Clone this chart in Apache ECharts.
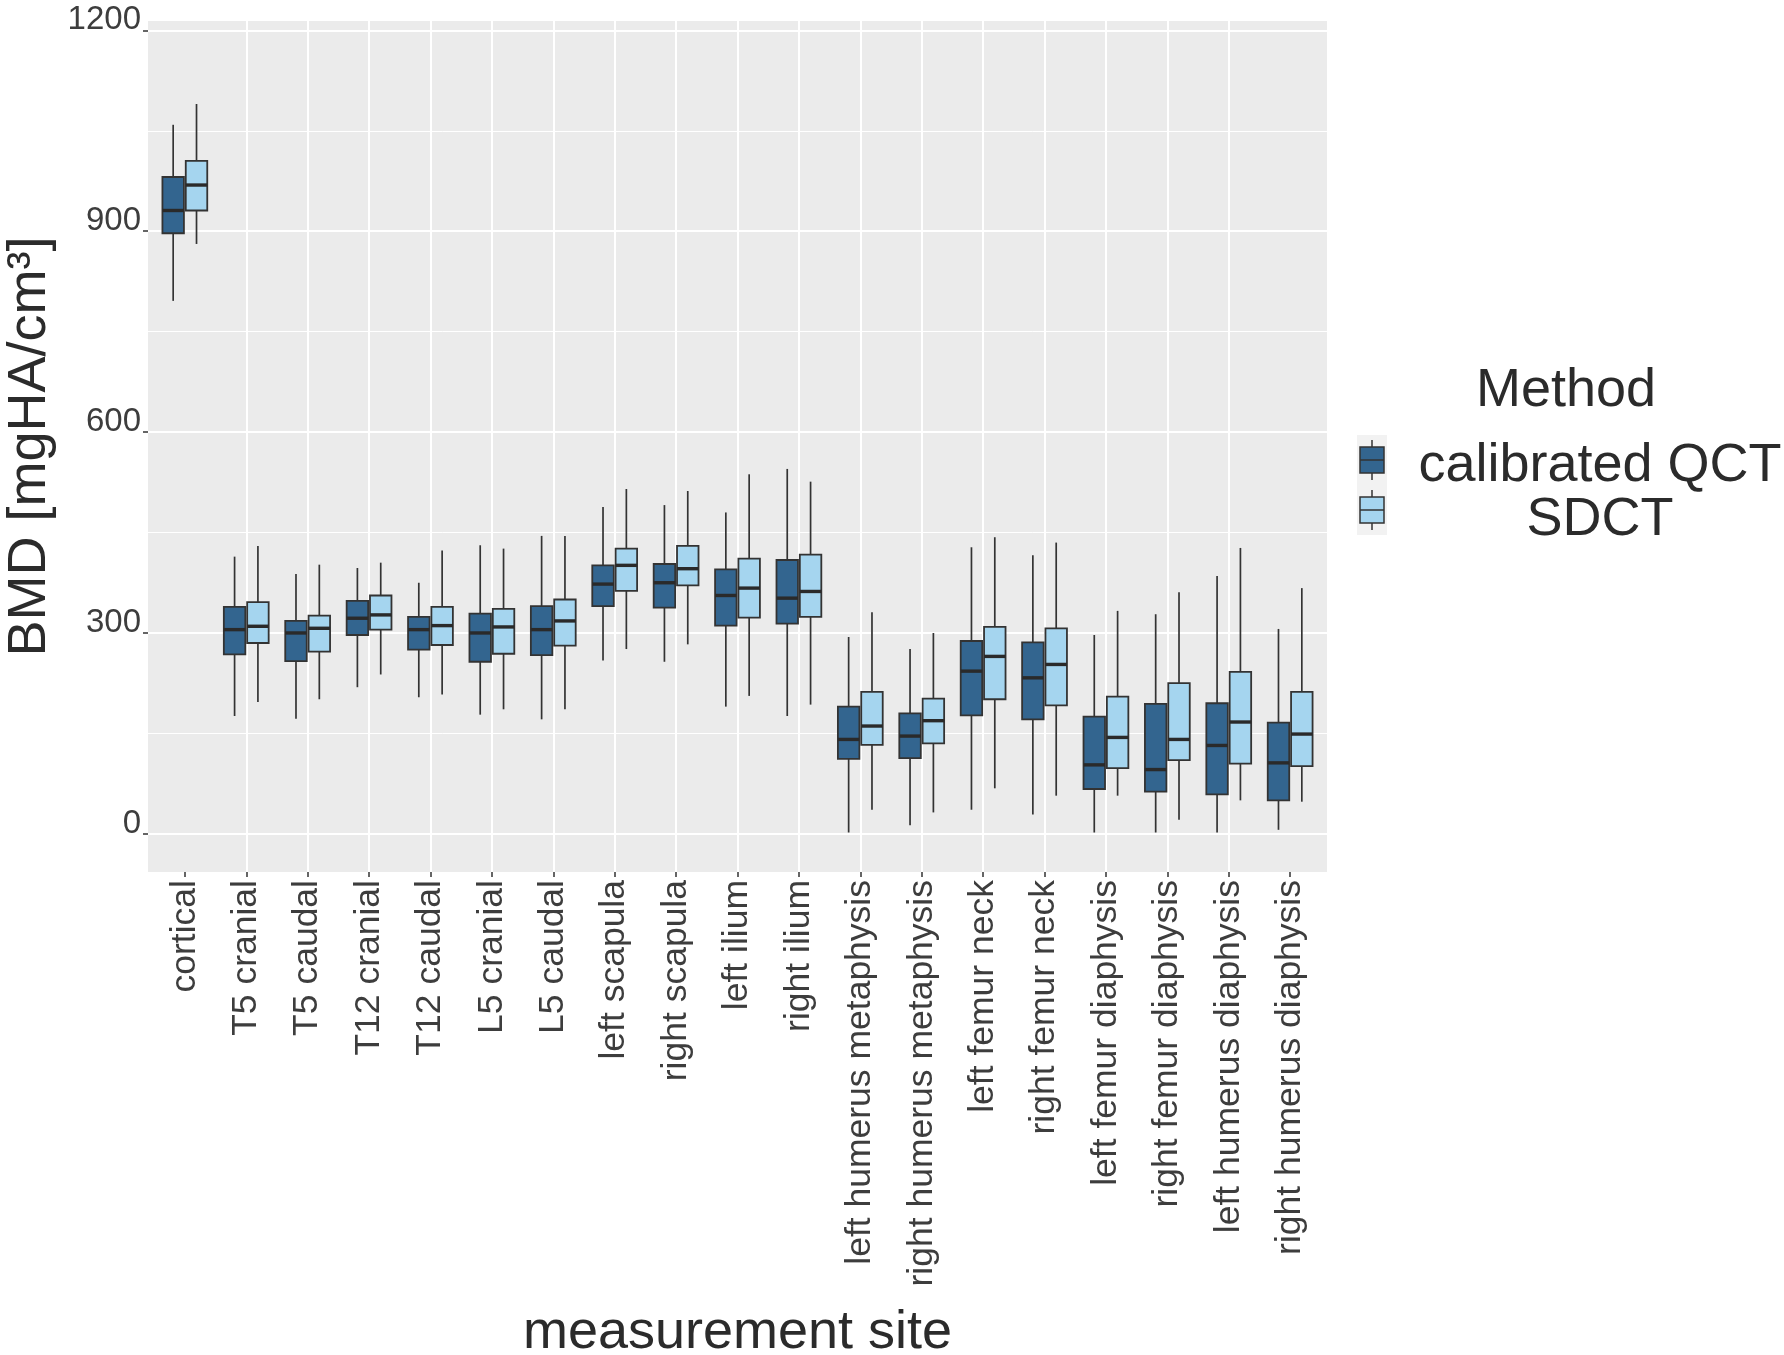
<!DOCTYPE html>
<html>
<head>
<meta charset="utf-8">
<script src="https://cdn.jsdelivr.net/npm/echarts@6/dist/echarts.min.js"></script>
<style>
html,body{margin:0;padding:0;background:#fff;}
#chart{width:1784px;height:1355px;}
</style>
</head>
<body>
<div id="chart"></div>
<script>
// ---- data (min, Q1, median, Q3, max) ----
const categories = ['cortical','T5 cranial','T5 caudal','T12 cranial','T12 caudal','L5 cranial','L5 caudal',
  'left scapula','right scapula','left ilium','right ilium','left humerus metaphysis','right humerus metaphysis',
  'left femur neck','right femur neck','left femur diaphysis','right femur diaphysis','left humerus diaphysis','right humerus diaphysis'];

const methodNames = ['calibrated QCT', 'SDCT'];

const qctStats = [
  [796, 897, 931, 981, 1059],
  [176, 268, 305, 339, 414],
  [172, 258, 300, 318, 388],
  [219, 297, 322, 348, 397],
  [204, 275, 305, 324, 375],
  [178, 257, 300, 329, 431],
  [171, 267, 305, 340, 445],
  [259, 340, 373, 401, 488],
  [257, 338, 375, 403, 491],
  [190, 311, 356, 395, 480],
  [176, 314, 352, 409, 545],
  [2, 112, 141, 190, 294],
  [13, 113, 146, 180, 276],
  [36, 177, 243, 288, 428],
  [29, 171, 233, 286, 416],
  [2, 67, 103, 175, 297],
  [2, 63, 96, 194, 328],
  [2, 59, 132, 195, 385],
  [6, 50, 106, 166, 306]
];

const sdctStats = [
  [881, 931, 969, 1005, 1090],
  [197, 285, 310, 346, 430],
  [201, 272, 307, 326, 402],
  [238, 305, 327, 356, 405],
  [208, 282, 311, 339, 423],
  [186, 269, 309, 336, 426],
  [186, 281, 318, 350, 445],
  [276, 363, 401, 426, 515],
  [283, 371, 396, 430, 512],
  [206, 323, 367, 411, 537],
  [193, 324, 362, 417, 526],
  [36, 133, 161, 212, 331],
  [32, 135, 169, 202, 300],
  [68, 201, 265, 309, 443],
  [57, 192, 253, 307, 435],
  [57, 98, 144, 205, 333],
  [21, 110, 141, 225, 361],
  [50, 105, 167, 242, 427],
  [48, 101, 149, 212, 367]
];

const yTickValues = [0, 300, 600, 900, 1200];

// ---- styling ----
const FONT = '"Liberation Sans", Arial, "DejaVu Sans", sans-serif';
const colors = ['#33658F', '#A5D5EF'];
const outline = '#333333';
const categoryIndex = categories.map((c, i) => i);

function makeRender(sign, fill) {
  return function (params, api) {
    const idx = api.value(0);
    const lo = api.coord([idx, api.value(1)]);
    const q1 = api.coord([idx, api.value(2)]);
    const md = api.coord([idx, api.value(3)]);
    const q3 = api.coord([idx, api.value(4)]);
    const hi = api.coord([idx, api.value(5)]);
    const band = api.size([1, 0])[0];
    const cx = lo[0] + sign * band * 0.19;
    const w = band * 0.35;
    return {
      type: 'group',
      children: [
        { type: 'line', shape: { x1: cx, y1: hi[1], x2: cx, y2: q3[1] }, style: { stroke: outline, lineWidth: 1.7 } },
        { type: 'line', shape: { x1: cx, y1: q1[1], x2: cx, y2: lo[1] }, style: { stroke: outline, lineWidth: 1.7 } },
        { type: 'rect', shape: { x: cx - w / 2, y: q3[1], width: w, height: q1[1] - q3[1] },
          style: { fill: fill, stroke: outline, lineWidth: 1.8 } },
        { type: 'line', shape: { x1: cx - w / 2, y1: md[1], x2: cx + w / 2, y2: md[1] },
          style: { stroke: '#2a2a2a', lineWidth: 3.4 } }
      ]
    };
  };
}

const chart = echarts.init(document.getElementById('chart'), null, { renderer: 'canvas' });

function legendKey(y0, fill) {
  return {
    type: 'group', left: 1357, top: y0, silent: true,
    children: [
      { type: 'rect', shape: { x: 0, y: 0, width: 30, height: 50 }, style: { fill: '#F2F2F2' } },
      { type: 'line', shape: { x1: 15, y1: 5, x2: 15, y2: 12 }, style: { stroke: outline, lineWidth: 1.5 } },
      { type: 'line', shape: { x1: 15, y1: 38, x2: 15, y2: 45 }, style: { stroke: outline, lineWidth: 1.5 } },
      { type: 'rect', shape: { x: 3, y: 12, width: 24, height: 26 }, style: { fill: fill, stroke: outline, lineWidth: 1.5 } },
      { type: 'line', shape: { x1: 3, y1: 25, x2: 27, y2: 25 }, style: { stroke: outline, lineWidth: 1.5 } }
    ]
  };
}

const option = {
  backgroundColor: '#ffffff',
  animation: false,
  textStyle: { fontFamily: FONT },
  grid: {
    left: 148, right: 457, top: 21, bottom: 483,
    containLabel: false,
    outerBoundsMode: 'none',
    show: true, backgroundColor: '#EBEBEB', borderWidth: 0
  },
  legend: {
    orient: 'vertical',
    left: 1357, top: 434,
    itemWidth: 30, itemHeight: 50, itemGap: 0,
    icon: 'none',
    selectedMode: false,
    data: methodNames,
    formatter: function (name) { return '{t|' + name + '}'; },
    textStyle: {
      rich: { t: { fontFamily: FONT, fontSize: 54, color: '#2b2b2b', width: 406, align: 'center' } }
    }
  },
  graphic: [
    { type: 'text', left: 1566 - 90, top: 387 - 23, style: { text: 'Method', fontFamily: FONT, fontSize: 54, fill: '#2b2b2b' } },
    legendKey(435, colors[0]),
    legendKey(485, colors[1])
  ],
  xAxis: {
    // discrete sites on positions 0..18, padded by 0.6 on each side like the reference
    type: 'value',
    position: 'bottom',
    min: -0.6, max: categories.length - 0.4,
    splitNumber: categories.length,
    name: 'measurement site',
    nameLocation: 'middle',
    nameGap: 434,
    nameMoveOverlap: false,
    nameTextStyle: { fontFamily: FONT, fontSize: 54, color: '#2b2b2b' },
    axisLine: { show: false, onZero: false },
    axisTick: { show: true, customValues: categoryIndex, length: 5, lineStyle: { color: '#333', width: 1.5 } },
    axisLabel: {
      rotate: 90, fontFamily: FONT, fontSize: 35.5, color: '#3d3d3d', margin: 8,
      customValues: categoryIndex,
      formatter: function (v) { return categories[Math.round(v)] || ''; }
    },
    splitLine: { show: true, showMinLine: false, showMaxLine: false, lineStyle: { color: '#ffffff', width: 2 } }
  },
  yAxis: {
    type: 'value',
    position: 'left',
    min: -57, max: 1214,
    splitNumber: 4,
    name: 'BMD [mgHA/cm³]',
    nameLocation: 'middle',
    nameRotate: 90,
    nameGap: 91,
    nameMoveOverlap: false,
    nameTextStyle: { fontFamily: FONT, fontSize: 54, color: '#2b2b2b' },
    axisLine: { show: false, onZero: false },
    axisTick: { show: true, length: 5, lineStyle: { color: '#333', width: 1.5 } },
    axisLabel: {
      fontFamily: FONT, fontSize: 33, color: '#3d3d3d', margin: 7,
      showMinLabel: false, showMaxLabel: false,
      verticalAlign: 'bottom', lineHeight: 20,
      formatter: function (v) { return yTickValues.indexOf(v) >= 0 ? String(v) : ''; }
    },
    splitLine: { show: true, showMinLine: false, showMaxLine: false, lineStyle: { color: '#ffffff', width: 2 } },
    minorTick: { show: false, splitNumber: 2 },
    minorSplitLine: { show: true, lineStyle: { color: '#ffffff', width: 1 } }
  },
  series: [
    {
      name: methodNames[0], type: 'custom',
      renderItem: makeRender(-1, colors[0]),
      encode: { x: 0, y: [1, 2, 3, 4, 5] },
      itemStyle: { color: colors[0] },
      data: qctStats.map((s, i) => [i].concat(s)),
      z: 3
    },
    {
      name: methodNames[1], type: 'custom',
      renderItem: makeRender(1, colors[1]),
      encode: { x: 0, y: [1, 2, 3, 4, 5] },
      itemStyle: { color: colors[1] },
      data: sdctStats.map((s, i) => [i].concat(s)),
      z: 3
    }
  ]
};

chart.setOption(option);
</script>
</body>
</html>
